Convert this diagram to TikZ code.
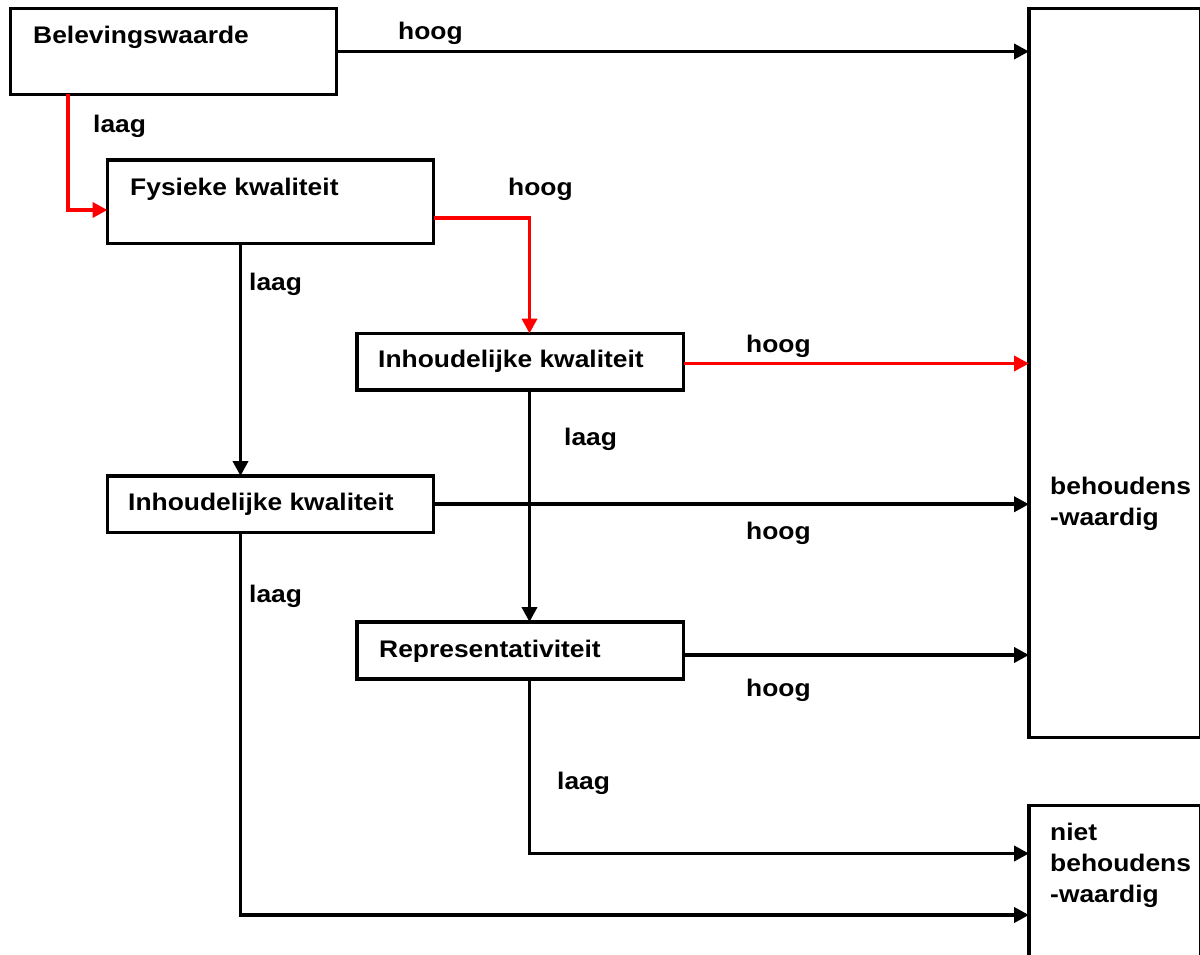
\documentclass[tikz,border=0pt]{standalone}
\usepackage{fontspec}
\setmainfont{Liberation Sans}[FakeStretch=1.1]
\usetikzlibrary{arrows.meta}
\begin{document}
\begin{tikzpicture}[x=1pt,y=-1pt,
  box/.style={draw=black, line width=3.8pt, rectangle, inner sep=0pt, outer sep=0pt, anchor=north west},
  arr/.style={draw=black, line width=3.8pt, -{Triangle[length=15pt,width=15pt]}},
  redarr/.style={arr, draw=red},
  lbl/.style={anchor=base west, inner sep=0pt, font=\fontsize{24}{31}\selectfont\bfseries, align=left}]
\useasboundingbox (0,0) rectangle (1200,955);
% boxes
\node[box, minimum width=326pt, minimum height=86pt] (bel) at (10.5,8.5) {};
\node[box, minimum width=326pt, minimum height=83.5pt] (fys) at (107.5,160) {};
\node[box, minimum width=326.5pt, minimum height=56.5pt] (inhR) at (357,333.5) {};
\node[box, minimum width=326pt, minimum height=56.5pt] (inhL) at (107.5,476) {};
\node[box, minimum width=326.5pt, minimum height=57pt] (rep) at (357,622) {};
\node[box, minimum width=171.5pt, minimum height=729pt] (beh) at (1029,8.5) {};
\node[box, minimum width=171.5pt, minimum height=160pt] (niet) at (1029,805.5) {};
% box texts
\node[lbl] (belT) at (33,44) {Belevingswaarde};
\node[lbl] (fysT) at (130,195) {Fysieke kwaliteit};
\node[lbl] (inhRT) at (378,367) {Inhoudelijke kwaliteit};
\node[lbl] (inhLT) at (128,510) {Inhoudelijke kwaliteit};
\node[lbl] (repT) at (379,657) {Representativiteit};
\node[lbl] (behT) at (1050,525) {behoudens\\-waardig};
\node[lbl] (nietT) at (1050,902) {niet\\behoudens\\-waardig};
% coordinates
\coordinate (c1) at ([xshift=57.5pt]bel.south west);
\coordinate (c2) at ([yshift=-50pt]fys.north west);
\coordinate (c3) at ([yshift=-58pt]fys.north east);
\coordinate (c4) at ([xshift=172.5pt]inhR.north west);
\coordinate (c5) at ([xshift=133pt]fys.south west);
\coordinate (c6) at ([xshift=133pt]inhL.north west);
\coordinate (c7) at ([yshift=-30pt]inhR.north east);
\coordinate (c8) at ([xshift=172.5pt]inhR.south west);
\coordinate (c9) at ([xshift=172.5pt]rep.north west);
\coordinate (c10) at ([yshift=-33pt]rep.north east);
\coordinate (c11) at ([xshift=172.5pt]rep.south west);
\coordinate (c12) at ([yshift=-48pt]niet.north west);
\coordinate (c13) at ([xshift=133pt]inhL.south west);
\coordinate (c14) at ([yshift=-109.5pt]niet.north west);
% connectors
\draw[arr] (bel.east) -- (beh.west |- bel.east);
\draw[redarr] (c1) |- (c2);
\draw[redarr] (c3) -| (c4);
\draw[arr] (c5) -- (c6);
\draw[redarr] (c7) -- (beh.west |- c7);
\draw[arr] (c8) -- (c9);
\draw[arr] (inhL.east) -- (beh.west |- inhL.east);
\draw[arr] (c13) |- (c14);
\draw[arr] (c10) -- (beh.west |- c10);
\draw[arr] (c11) |- (c12);
% labels
\node[lbl] (h1) at (398,40) {hoog};
\node[lbl] (l1) at (93,133) {laag};
\node[lbl] (h2) at (508,195) {hoog};
\node[lbl] (l2) at (249,290) {laag};
\node[lbl] (h3) at (746,352) {hoog};
\node[lbl] (l3) at (564,445) {laag};
\node[lbl] (h4) at (746,539) {hoog};
\node[lbl] (l4) at (249,602) {laag};
\node[lbl] (h5) at (746,696) {hoog};
\node[lbl] (l5) at (557,789) {laag};
\end{tikzpicture}
\end{document}
